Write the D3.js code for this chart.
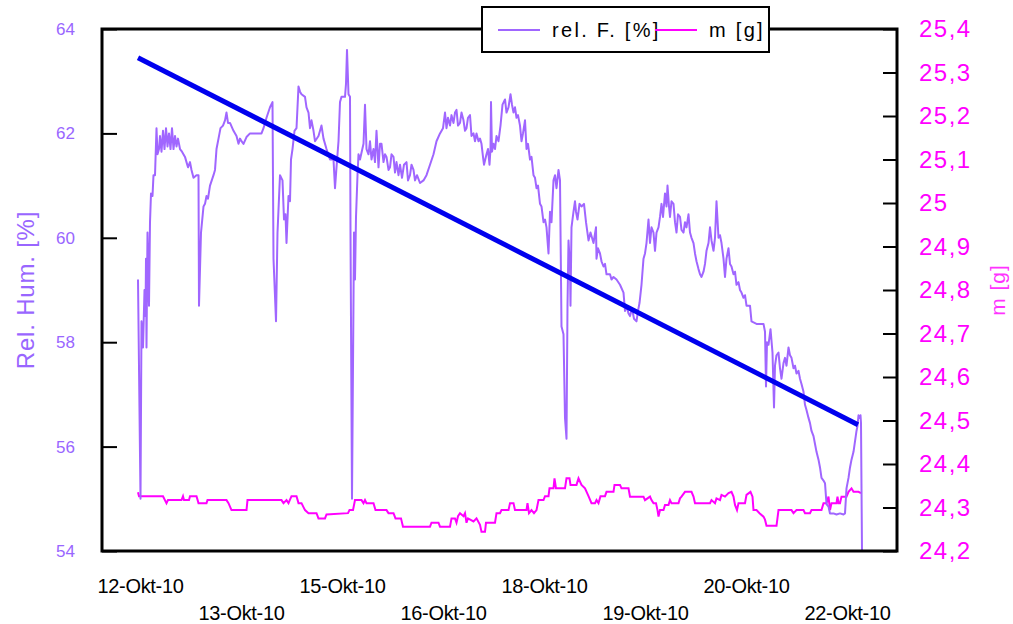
<!DOCTYPE html>
<html>
<head>
<meta charset="utf-8">
<script src="https://cdn.jsdelivr.net/npm/d3@7"></script>
<style>
  body { margin: 0; background: #fff; }
  svg text { font-family: "Liberation Sans", Arial, sans-serif; }
</style>
</head>
<body>
<div id="chart"></div>
<script>
// reading number of each label (labels every 202 readings)
let labelReadings = [4, 206, 408, 610, 812, 1014, 1216, 1418];
let labelNames = ["12-Okt-10", "13-Okt-10", "15-Okt-10", "16-Okt-10", "18-Okt-10", "19-Okt-10", "20-Okt-10", "22-Okt-10"];
let humTicks = [54, 56, 58, 60, 62, 64];
let massTicks = [24.2, 24.3, 24.4, 24.5, 24.6, 24.7, 24.8, 24.9, 25, 25.1, 25.2, 25.3, 25.4];

// rel. F. [%]  -> [reading, value]
let humidity = [
  [0,59.2],[5,55.0],[7,58.4],[10,57.9],[13,59.0],[15,58.5],[16,59.6],[17,57.9],[19,60.1],[22,58.7],[24,60.3],
  [26,60.85],[29,60.8],[31,61.2],[34,61.2],[37,62.1],[39,61.6],[42,61.7],[44,61.95],[47,61.65],[50,62.05],
  [53,61.7],[56,62.1],[59,61.75],[62,62.0],[65,61.7],[68,62.1],[71,61.7],[74,61.95],[77,61.75],[80,61.9],
  [84,61.7],[88,61.65],[94,61.55],[97,61.45],[100,61.35],[104,61.45],[107,61.3],[111,61.15],[117,61.2],
  [121,61.2],[122,58.7],[126,60.1],[131,60.6],[134,60.65],[137,60.8],[140,60.75],[144,61.0],[151,61.2],
  [154,61.3],[157,61.7],[161,61.9],[165,62.1],[170,62.15],[174,62.25],[177,62.4],[180,62.2],[184,62.2],
  [191,62.05],[197,61.95],[201,61.8],[204,61.9],[207,61.85],[211,61.8],[217,61.93],[224,62.0],[237,62.0],
  [247,62.0],[251,62.1],[257,62.3],[264,62.5],[269,62.6],[271,59.6],[276,58.4],[279,60.1],[284,61.2],
  [289,61.1],[292,60.35],[295,60.45],[297,59.9],[301,60.8],[304,60.7],[306,61.5],[309,61.7],[313,62.05],
  [317,62.1],[321,62.9],[324,62.8],[327,62.75],[334,62.7],[337,62.5],[341,62.4],[344,62.1],[347,62.25],
  [351,62.05],[354,61.85],[361,61.95],[367,62.15],[371,61.9],[377,61.7],[384,61.5],[391,61.5],[394,60.95],
  [397,61.35],[401,61.85],[404,62.6],[407,62.7],[414,62.7],[416,62.95],[418,63.6],[421,62.75],[424,62.7],
  [425,60.1],[428,55.0],[432,60.1],[434,59.2],[436,60.4],[439,61.2],[441,61.6],[444,61.5],[451,61.8],
  [454,62.55],[457,61.7],[461,61.6],[464,61.85],[467,61.5],[471,61.7],[474,61.45],[477,62.05],[481,61.35],
  [484,61.8],[487,61.8],[491,61.45],[494,61.6],[497,61.55],[501,61.3],[504,61.35],[507,61.6],[511,61.55],
  [514,61.25],[517,61.45],[521,61.2],[524,61.4],[528,61.15],[532,61.4],[537,61.45],[540,61.1],[544,61.2],
  [547,61.4],[551,61.3],[554,61.1],[558,61.2],[564,61.05],[571,61.1],[577,61.2],[584,61.4],[591,61.6],
  [597,61.85],[604,62.0],[610,62.1],[614,62.4],[617,62.1],[620,62.3],[624,62.15],[627,62.35],[631,62.2],
  [634,62.4],[637,62.45],[640,62.15],[644,62.2],[647,62.4],[651,62.25],[654,62.05],[657,62.1],[660,62.3],
  [664,62.35],[667,61.95],[671,62.0],[674,61.85],[677,62.0],[681,61.85],[684,61.9],[687,61.8],[690,61.55],
  [692,61.4],[697,61.6],[700,61.7],[703,61.4],[705,61.7],[706,62.6],[708,61.65],[711,61.8],[714,61.7],
  [717,61.95],[721,61.85],[725,62.15],[729,62.55],[734,62.65],[737,62.4],[741,62.5],[745,62.75],[748,62.55],
  [751,62.4],[754,62.5],[757,62.3],[760,62.35],[764,62.15],[767,61.85],[770,62.0],[774,62.25],[777,61.7],
  [780,61.8],[784,61.5],[787,61.55],[791,61.2],[794,61.15],[797,60.95],[800,61.0],[804,60.65],[807,60.6],
  [811,60.3],[814,60.35],[817,60.2],[821,59.7],[824,60.5],[827,60.3],[831,61.1],[834,61.2],[837,60.95],
  [841,61.3],[844,61.1],[847,58.3],[851,58.15],[854,56.55],[857,56.15],[859,58.7],[861,59.95],[864,59.45],
  [865,58.7],[867,60.2],[871,60.5],[874,60.7],[876,60.5],[879,60.35],[883,60.65],[887,60.6],[892,60.65],
  [896,60.3],[901,59.95],[905,60.1],[911,59.9],[916,60.2],[917,59.6],[920,59.8],[924,59.7],[927,59.55],
  [931,59.45],[934,59.5],[937,59.3],[944,59.3],[947,59.2],[951,59.25],[957,59.2],[964,59.1],[971,58.95],
  [974,58.6],[977,58.7],[981,58.55],[984,58.5],[988,58.65],[992,58.45],[997,58.4],[1000,58.6],[1003,58.75],
  [1007,59.1],[1011,59.6],[1014,59.7],[1017,59.9],[1021,60.35],[1024,59.9],[1027,60.2],[1031,60.1],
  [1034,59.75],[1037,60.1],[1041,60.2],[1044,60.4],[1047,60.65],[1050,60.4],[1054,60.85],[1057,60.6],
  [1059,61.0],[1062,60.6],[1064,60.4],[1067,60.7],[1071,60.65],[1074,60.3],[1077,60.1],[1080,60.45],
  [1084,60.4],[1087,60.15],[1091,60.1],[1094,60.3],[1097,60.2],[1101,60.45],[1104,60.1],[1107,60.0],
  [1111,59.9],[1114,59.7],[1117,59.55],[1121,59.4],[1124,59.3],[1127,59.25],[1131,59.35],[1134,59.5],
  [1137,59.75],[1141,59.9],[1144,60.2],[1147,59.95],[1151,59.75],[1154,60.0],[1157,60.7],[1161,60.0],
  [1164,60.05],[1167,59.9],[1171,59.6],[1174,59.25],[1177,59.6],[1181,59.8],[1184,59.5],[1187,59.45],
  [1191,59.3],[1194,59.35],[1197,59.1],[1201,59.15],[1204,59.0],[1207,58.95],[1211,58.85],[1214,58.9],
  [1217,58.7],[1224,58.7],[1227,58.4],[1237,58.35],[1251,58.35],[1254,58.2],[1256,57.15],[1258,58.0],
  [1261,57.95],[1265,58.25],[1269,57.8],[1272,56.75],[1274,57.55],[1277,57.75],[1281,57.8],[1284,57.5],
  [1287,57.3],[1291,57.6],[1294,57.7],[1297,57.55],[1301,57.9],[1304,57.75],[1307,57.7],[1311,57.5],
  [1314,57.55],[1317,57.4],[1321,57.45],[1324,57.3],[1327,57.2],[1331,57.05],[1334,56.8],[1337,56.7],
  [1341,56.55],[1344,56.45],[1347,56.3],[1351,56.2],[1354,56.05],[1357,55.9],[1361,55.75],[1364,55.6],
  [1367,55.4],[1371,55.35],[1374,55.3],[1377,54.9],[1381,54.85],[1384,54.72],[1391,54.72],[1397,54.7],
  [1404,54.72],[1411,54.7],[1414,54.72],[1417,55.2],[1421,55.4],[1424,55.6],[1427,55.75],[1431,55.9],
  [1434,56.1],[1437,56.3],[1439,56.4],[1441,56.6],[1443,56.55],[1445,56.6],[1446,56.45],[1448,54.0]
];

// m [g] -> [reading, value]
let mass = [
  [0,24.335],[2,24.326],[50,24.326],[57,24.31],[60,24.317],[87,24.317],[90,24.326],[92,24.317],[102,24.317],
  [104,24.326],[117,24.326],[121,24.31],[137,24.31],[139,24.317],[177,24.317],[181,24.31],[187,24.294],
  [217,24.294],[219,24.317],[287,24.317],[291,24.31],[297,24.317],[301,24.31],[307,24.326],[317,24.326],
  [321,24.31],[327,24.31],[334,24.294],[341,24.287],[357,24.287],[361,24.275],[374,24.275],[377,24.284],
  [420,24.287],[423,24.294],[430,24.294],[434,24.317],[447,24.317],[451,24.31],[454,24.317],[457,24.31],
  [471,24.31],[475,24.294],[497,24.294],[501,24.287],[511,24.287],[515,24.275],[526,24.275],[530,24.256],
  [584,24.256],[587,24.265],[601,24.265],[604,24.256],[624,24.256],[627,24.275],[634,24.275],[637,24.265],
  [640,24.28],[644,24.287],[651,24.28],[654,24.287],[657,24.265],[660,24.275],[671,24.268],[677,24.275],
  [684,24.26],[687,24.244],[694,24.244],[696,24.265],[714,24.265],[717,24.287],[724,24.287],[727,24.294],
  [741,24.294],[744,24.31],[751,24.31],[754,24.294],[777,24.294],[779,24.31],[782,24.287],[787,24.294],
  [792,24.287],[797,24.294],[801,24.317],[811,24.317],[814,24.326],[821,24.326],[823,24.344],[831,24.344],
  [833,24.367],[836,24.344],[854,24.344],[857,24.367],[863,24.367],[865,24.352],[877,24.352],[881,24.367],
  [887,24.352],[894,24.344],[901,24.326],[907,24.31],[914,24.31],[917,24.317],[921,24.31],[925,24.326],
  [934,24.326],[937,24.336],[951,24.336],[953,24.352],[964,24.352],[967,24.344],[981,24.344],[984,24.325],
  [1011,24.325],[1014,24.317],[1024,24.325],[1027,24.317],[1031,24.31],[1036,24.31],[1039,24.294],
  [1041,24.279],[1044,24.294],[1051,24.294],[1054,24.306],[1061,24.306],[1064,24.317],[1067,24.31],
  [1081,24.31],[1084,24.321],[1087,24.325],[1094,24.336],[1107,24.336],[1111,24.325],[1114,24.31],
  [1144,24.31],[1147,24.317],[1154,24.31],[1157,24.321],[1164,24.317],[1167,24.329],[1174,24.325],
  [1181,24.333],[1187,24.336],[1191,24.325],[1194,24.306],[1198,24.294],[1201,24.31],[1214,24.31],
  [1217,24.329],[1225,24.336],[1229,24.325],[1231,24.294],[1237,24.294],[1243,24.287],[1251,24.279],
  [1254,24.272],[1257,24.258],[1277,24.258],[1281,24.294],[1307,24.294],[1311,24.287],[1317,24.294],
  [1331,24.294],[1334,24.287],[1344,24.287],[1347,24.294],[1367,24.294],[1371,24.31],[1377,24.31],
  [1381,24.325],[1384,24.294],[1387,24.31],[1397,24.31],[1399,24.325],[1401,24.31],[1404,24.31],
  [1407,24.325],[1417,24.325],[1421,24.336],[1427,24.344],[1431,24.336],[1441,24.336],[1446,24.333]
];

// linear trend (on the humidity axis)
let trend = [[0, 63.45], [1440, 56.42]];

let W = 1013, H = 624;
let margin = { top: 29, right: 116, bottom: 73, left: 102 };
let plotW = W - margin.left - margin.right;
let plotH = H - margin.top - margin.bottom;

let svg = d3.select("#chart")
  .append("svg")
  .attr("width", W)
  .attr("height", H);

let g = svg.append("g")
  .attr("transform", "translate(" + margin.left + "," + margin.top + ")");

let x = d3.scaleLinear().domain([0, 1448]).range([36, 760]);
let yL = d3.scaleLinear().domain([54, 64]).range([plotH, 0]);
let yR = d3.scaleLinear().domain([24.2, 25.4]).range([plotH, 0]);

g.append("clipPath").attr("id", "clip")
  .append("rect").attr("width", plotW).attr("height", plotH + 2);

// left axis
let axL = g.append("g")
  .call(d3.axisLeft(yL).tickValues(humTicks).tickSizeInner(-15).tickSizeOuter(0).tickPadding(27));
axL.select(".domain").remove();
axL.selectAll("line").attr("stroke", "#000").attr("stroke-width", 2);
axL.selectAll("text").attr("fill", "#9966ff").style("font-size", "17px");

// right axis
let axR = g.append("g")
  .attr("transform", "translate(" + plotW + ",0)")
  .call(d3.axisRight(yR).tickValues(massTicks).tickSizeInner(-14).tickSizeOuter(0).tickPadding(22)
    .tickFormat(d => String(+d.toFixed(1)).replace(".", ",")));
axR.select(".domain").remove();
axR.selectAll("line").attr("stroke", "#000").attr("stroke-width", 2);
axR.selectAll("text").attr("fill", "#ff00ff").style("font-size", "24px").style("letter-spacing", "1.5px");

// bottom axis, labels in two staggered rows
let axB = g.append("g")
  .attr("transform", "translate(0," + plotH + ")")
  .call(d3.axisBottom(x).tickValues(labelReadings).tickSize(0).tickPadding(0)
    .tickFormat((d, i) => labelNames[i]));
axB.select(".domain").remove();
axB.selectAll("text")
  .attr("fill", "#000")
  .attr("dy", null)
  .attr("y", (d, i) => i % 2 === 0 ? 42 : 69)
  .style("font-size", "20px")
  .style("letter-spacing", "-0.3px");

let lines = g.append("g").attr("clip-path", "url(#clip)");

lines.append("path")
  .datum(mass)
  .attr("fill", "none")
  .attr("stroke", "#ff00ff")
  .attr("stroke-width", 2)
  .attr("d", d3.line().x(d => x(d[0])).y(d => yR(d[1])));

lines.append("path")
  .datum(humidity)
  .attr("fill", "none")
  .attr("stroke", "#a066ff")
  .attr("stroke-width", 2)
  .attr("stroke-linejoin", "round")
  .attr("d", d3.line().x(d => x(d[0])).y(d => yL(d[1])));

lines.append("path")
  .datum(trend)
  .attr("fill", "none")
  .attr("stroke", "#0000ee")
  .attr("stroke-width", 5)
  .attr("d", d3.line().x(d => x(d[0])).y(d => yL(d[1])));

// frame
g.append("rect")
  .attr("width", plotW)
  .attr("height", plotH)
  .attr("fill", "none")
  .attr("stroke", "#000")
  .attr("stroke-width", 3);

// axis titles
svg.append("text")
  .attr("transform", "translate(34,290) rotate(-90)")
  .attr("text-anchor", "middle")
  .attr("fill", "#9966ff")
  .style("font-size", "24px")
  .style("letter-spacing", "0.8px")
  .text("Rel. Hum. [%]");

svg.append("text")
  .attr("transform", "translate(1005,290) rotate(-90)")
  .attr("text-anchor", "middle")
  .attr("fill", "#ff33ff")
  .style("font-size", "21px")
  .style("letter-spacing", "1px")
  .text("m [g]");

// legend
let leg = svg.append("g").attr("transform", "translate(482,7)");
leg.append("rect")
  .attr("width", 287).attr("height", 45)
  .attr("fill", "#fff").attr("stroke", "#000").attr("stroke-width", 2);
let legItems = [
  { name: "rel. F. [%]", color: "#a066ff", x0: 16 },
  { name: "m [g]", color: "#ff00ff", x0: 173 }
];
legItems.forEach(it => {
  leg.append("line")
    .attr("x1", it.x0).attr("x2", it.x0 + 42)
    .attr("y1", 23).attr("y2", 23)
    .attr("stroke", it.color).attr("stroke-width", 2);
  leg.append("text")
    .attr("x", it.x0 + 54).attr("y", 30)
    .attr("fill", "#000")
    .style("font-size", "20px")
    .style("letter-spacing", "2.3px")
    .text(it.name);
});
</script>
</body>
</html>
